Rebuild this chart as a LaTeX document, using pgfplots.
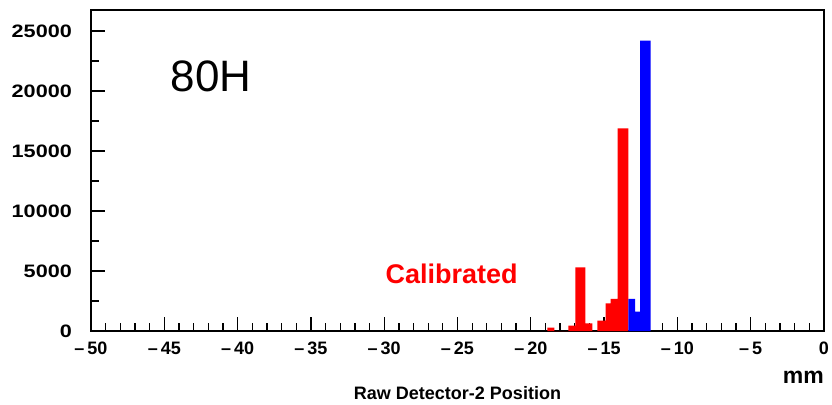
\documentclass[border=0pt]{standalone}
\usepackage{fontspec}
\setmainfont{Liberation Sans}
\usepackage{pgfplots}
\pgfplotsset{compat=1.18}
\newcommand{\wl}[1]{\scalebox{1.2}[1]{#1}}
\begin{document}
\begin{tikzpicture}
\begin{axis}[
  scale only axis,
  width=733pt, height=321pt,
  xmin=-50, xmax=0, ymin=0, ymax=26750,
  clip=false,
  axis line style={line width=2pt, black},
  xtick={-50,-45,...,0},
  xticklabels={\textendash\,50,\textendash\,45,\textendash\,40,\textendash\,35,\textendash\,30,\textendash\,25,\textendash\,20,\textendash\,15,\textendash\,10,\textendash\,5,0},
  ytick={0,5000,10000,15000,20000,25000},
  yticklabels={\wl{0},\wl{5000},\wl{10000},\wl{15000},\wl{20000},\wl{25000}},
  minor x tick num=4,
  minor y tick num=1,
  xtick pos=bottom, ytick pos=left,
  tick align=inside,
  major tick length=14pt,
  minor tick length=7.5pt,
  tick style={line width=1.3pt, black},
  xticklabel style={font=\fontsize{18}{20}\selectfont\bfseries, anchor=center, inner sep=0pt, yshift=-17pt},
  yticklabel style={font=\fontsize{18}{20}\selectfont\bfseries, anchor=east, inner sep=0pt, xshift=-19pt},
  scaled y ticks=false,
]
\addplot[fill=red, draw=none, const plot] coordinates {
  (-18.87,275) (-18.40,0) (-17.44,440) (-16.96,5310) (-16.28,640) (-15.80,0)
  (-15.46,860) (-14.89,2310) (-14.55,2670) (-14.07,16890) (-13.35,0)
} \closedcycle;
\addplot[fill=blue, draw=none, const plot] coordinates {
  (-13.35,2670) (-12.89,1610) (-12.55,24190) (-11.82,0)
} \closedcycle;
\node[font=\fontsize{44}{50}\selectfont, anchor=center] at (axis cs:-41.8,21250) {80H};
\node[font=\fontsize{27}{30}\selectfont\bfseries, text=red, anchor=center] at (axis cs:-25.4,4750) {Calibrated};
\node[font=\fontsize{18}{20}\selectfont\bfseries, anchor=center, inner sep=0pt] at ([yshift=-62pt]rel axis cs:0.5,0) {Raw Detector-2 Position};
\node[font=\fontsize{23}{25}\selectfont\bfseries, anchor=east, inner sep=0pt] at ([yshift=-46.5pt]rel axis cs:1,0) {mm};
\path ([xshift=-91pt,yshift=-73pt]rel axis cs:0,0) rectangle ([xshift=8pt,yshift=10pt]rel axis cs:1,1);
\end{axis}
\end{tikzpicture}
\end{document}
